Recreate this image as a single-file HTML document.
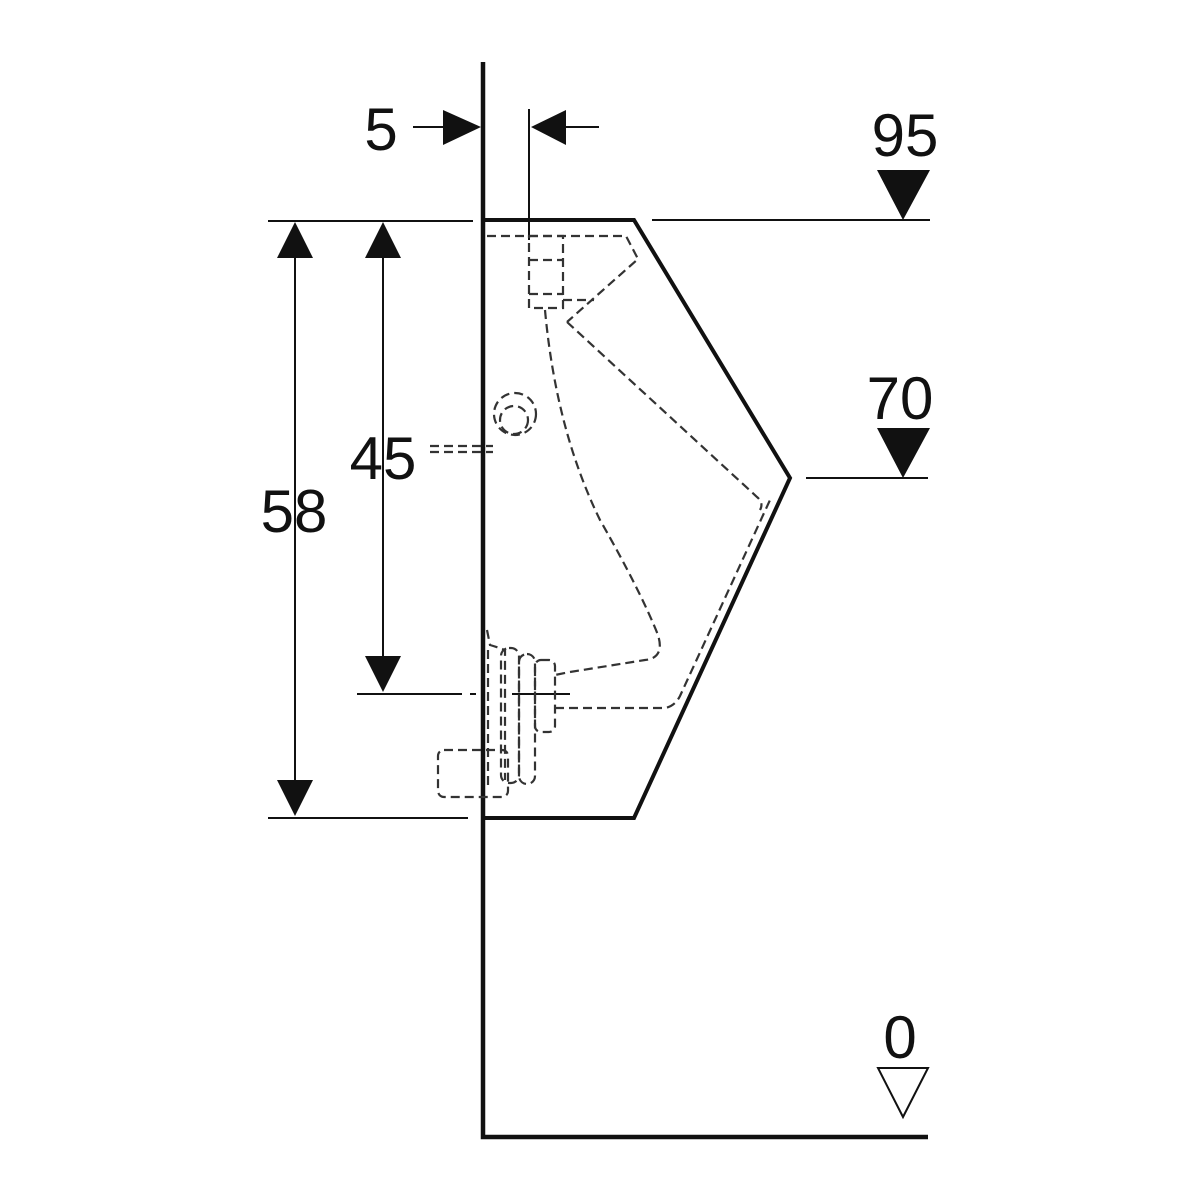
<!DOCTYPE html>
<html><head><style>html,body{margin:0;padding:0;background:#fff}svg{display:block}</style></head>
<body>
<svg width="1200" height="1200" viewBox="0 0 1200 1200" xmlns="http://www.w3.org/2000/svg">
<rect width="1200" height="1200" fill="#fff"/>
<g fill="none" stroke="#111">
<path d="M483 62 V1137 H928" stroke-width="4.5"/>
<path d="M485 220 H634 L790 478 L634 818 H485" stroke-width="4"/>
<g stroke-width="2">
<line x1="268" y1="221" x2="473" y2="221"/>
<line x1="652" y1="220" x2="930" y2="220"/>
<line x1="268" y1="818" x2="468" y2="818"/>
<line x1="806" y1="478" x2="928" y2="478"/>
<line x1="357" y1="694" x2="462" y2="694"/>
<line x1="512" y1="694" x2="570" y2="694"/>
<line x1="470" y1="694" x2="476" y2="694"/>
<line x1="295" y1="250" x2="295" y2="790"/>
<line x1="383" y1="250" x2="383" y2="660"/>
<line x1="413" y1="127" x2="450" y2="127"/>
<line x1="560" y1="127" x2="599" y2="127"/>
<line x1="529" y1="109" x2="529" y2="240"/>
</g>
<g stroke="#333" stroke-width="2.2" stroke-dasharray="9 5">
<path d="M487 236 H626 L638 259 L567 322"/>
<rect x="529" y="236" width="34" height="72"/>
<line x1="529" y1="260" x2="563" y2="260"/>
<line x1="529" y1="294" x2="563" y2="294"/>
<path d="M563 300 H594"/>
<path d="M567 322 L757 497 Q764 503 760 510"/>
<path d="M545 310 Q556 430 600 520 Q640 590 658 635 Q665 658 645 660 L570 672 L555 675"/>
<circle cx="515" cy="414" r="21"/>
<circle cx="514" cy="420" r="14"/>
<line x1="430" y1="446" x2="493" y2="446"/>
<line x1="430" y1="452" x2="493" y2="452"/>
<path d="M487 630 L490 645 Q500 648 505 650 L505 780 M488 650 V790"/>
<rect x="501" y="648" width="18" height="135" rx="8"/>
<rect x="519" y="654" width="16" height="130" rx="8"/>
<rect x="535" y="660" width="20" height="72" rx="6"/>
<rect x="438" y="750" width="70" height="47" rx="6"/>
<path d="M555 708 H665 Q675 706 680 696 L770 500"/>
</g>
</g>
<g fill="#111">
<polygon points="295,222 277,258 313,258"/>
<polygon points="295,816 277,780 313,780"/>
<polygon points="383,222 365,258 401,258"/>
<polygon points="383,692 365,656 401,656"/>
<polygon points="481,127 443,110 443,145"/>
<polygon points="531,127 566,110 566,145"/>
<polygon points="877,170 930,170 903,220"/>
<polygon points="877,428 930,428 903,478"/>
</g>
<polygon points="878,1068 928,1068 903,1117" fill="none" stroke="#111" stroke-width="2"/>
<g font-family="Liberation Sans, sans-serif" font-size="60" fill="#111" text-anchor="middle">
<text x="381" y="150">5</text>
<text x="905" y="156">95</text>
<text x="900" y="419">70</text>
<text x="900" y="1058">0</text>
<text x="294" y="532">58</text>
<text x="383" y="479">45</text>
</g>
</svg>
</body></html>
